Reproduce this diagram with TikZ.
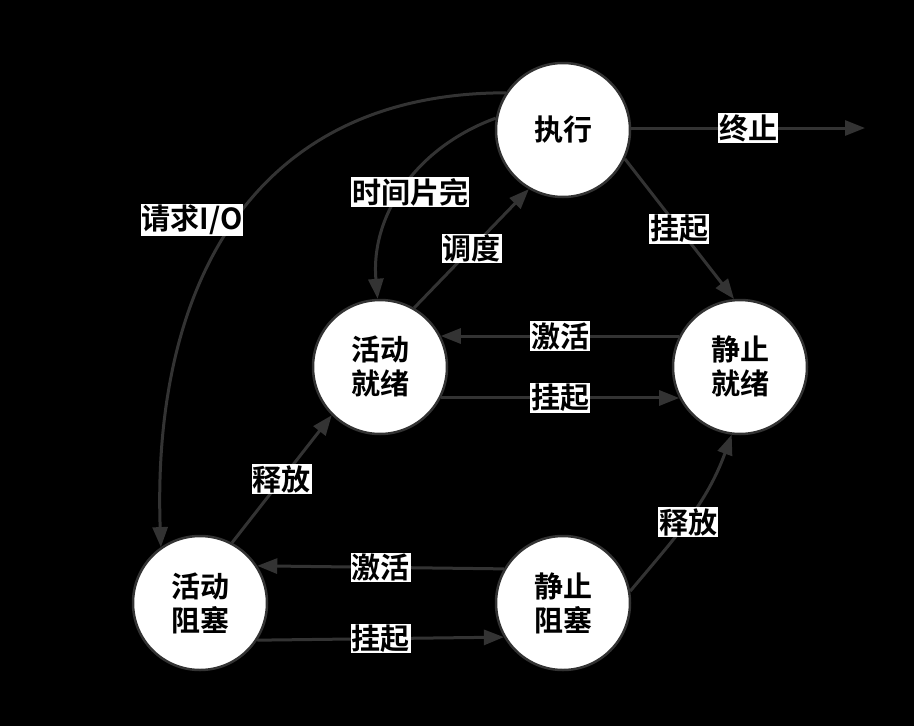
\documentclass[tikz,border=0pt]{standalone}
\usepackage{fontspec}
\setmainfont{Noto Sans CJK SC}[BoldFont={* Bold}]
\usetikzlibrary{arrows.meta}
\definecolor{edgegray}{HTML}{333333}
\tikzset{
  state/.style={circle,draw=edgegray,line width=2.5pt,fill=white,minimum size=134pt,inner sep=0pt,align=center,font=\bfseries\fontsize{29}{34}\selectfont},
  lbl/.style={fill=white,inner sep=1pt,font=\bfseries\fontsize{29}{32}\selectfont},
  trans/.style={draw=edgegray,line width=3pt,-{Triangle[length=20pt,width=15pt]}}
}
\begin{document}
\begin{tikzpicture}[x=1pt,y=-1pt]
  \fill[black] (0,0) rectangle (914,726);
  \node[state](run) at (563,130){执行};
  \node[state](aready) at (380,367){活动\\就绪};
  \node[state](sready) at (740,367){静止\\就绪};
  \node[state](ablock) at (200,603){活动\\阻塞};
  \node[state](sblock) at (563,603){静止\\阻塞};
  \coordinate (stop) at (865,128);
  \draw[trans] (run.east |- stop) -- node[lbl]{终止} (stop);
  \draw[trans] (run.-25) -- node[lbl]{挂起} (sready.95);
  \draw[trans] (sready.153) -- node[lbl]{激活} (aready.27);
  \draw[trans] (aready.-27) -- node[lbl]{挂起} (sready.-153);
  \draw[trans] (aready.60) -- node[lbl,pos=.5]{调度} (run.-120);
  \draw[trans] (run.170) to[out=200,in=95] (aready.92);
  \draw[trans] (run.147) to[out=180,in=92,looseness=1.15] (ablock.125);
  \draw[trans] (ablock.62) -- node[lbl]{释放} (aready.-135);
  \draw[trans] (sblock.150) -- node[lbl]{激活} (ablock.33);
  \draw[trans] (ablock.-33) -- node[lbl]{挂起} (sblock.-150);
  \draw[trans] (sblock.10) to[out=50,in=-110] (sready.-97);
  \node[lbl](tslice) at (410,192){时间片完};
  \node[lbl](reqio) at (192,220){请求I/O};
  \node[lbl](relb) at (688,522){释放};
\end{tikzpicture}
\end{document}
